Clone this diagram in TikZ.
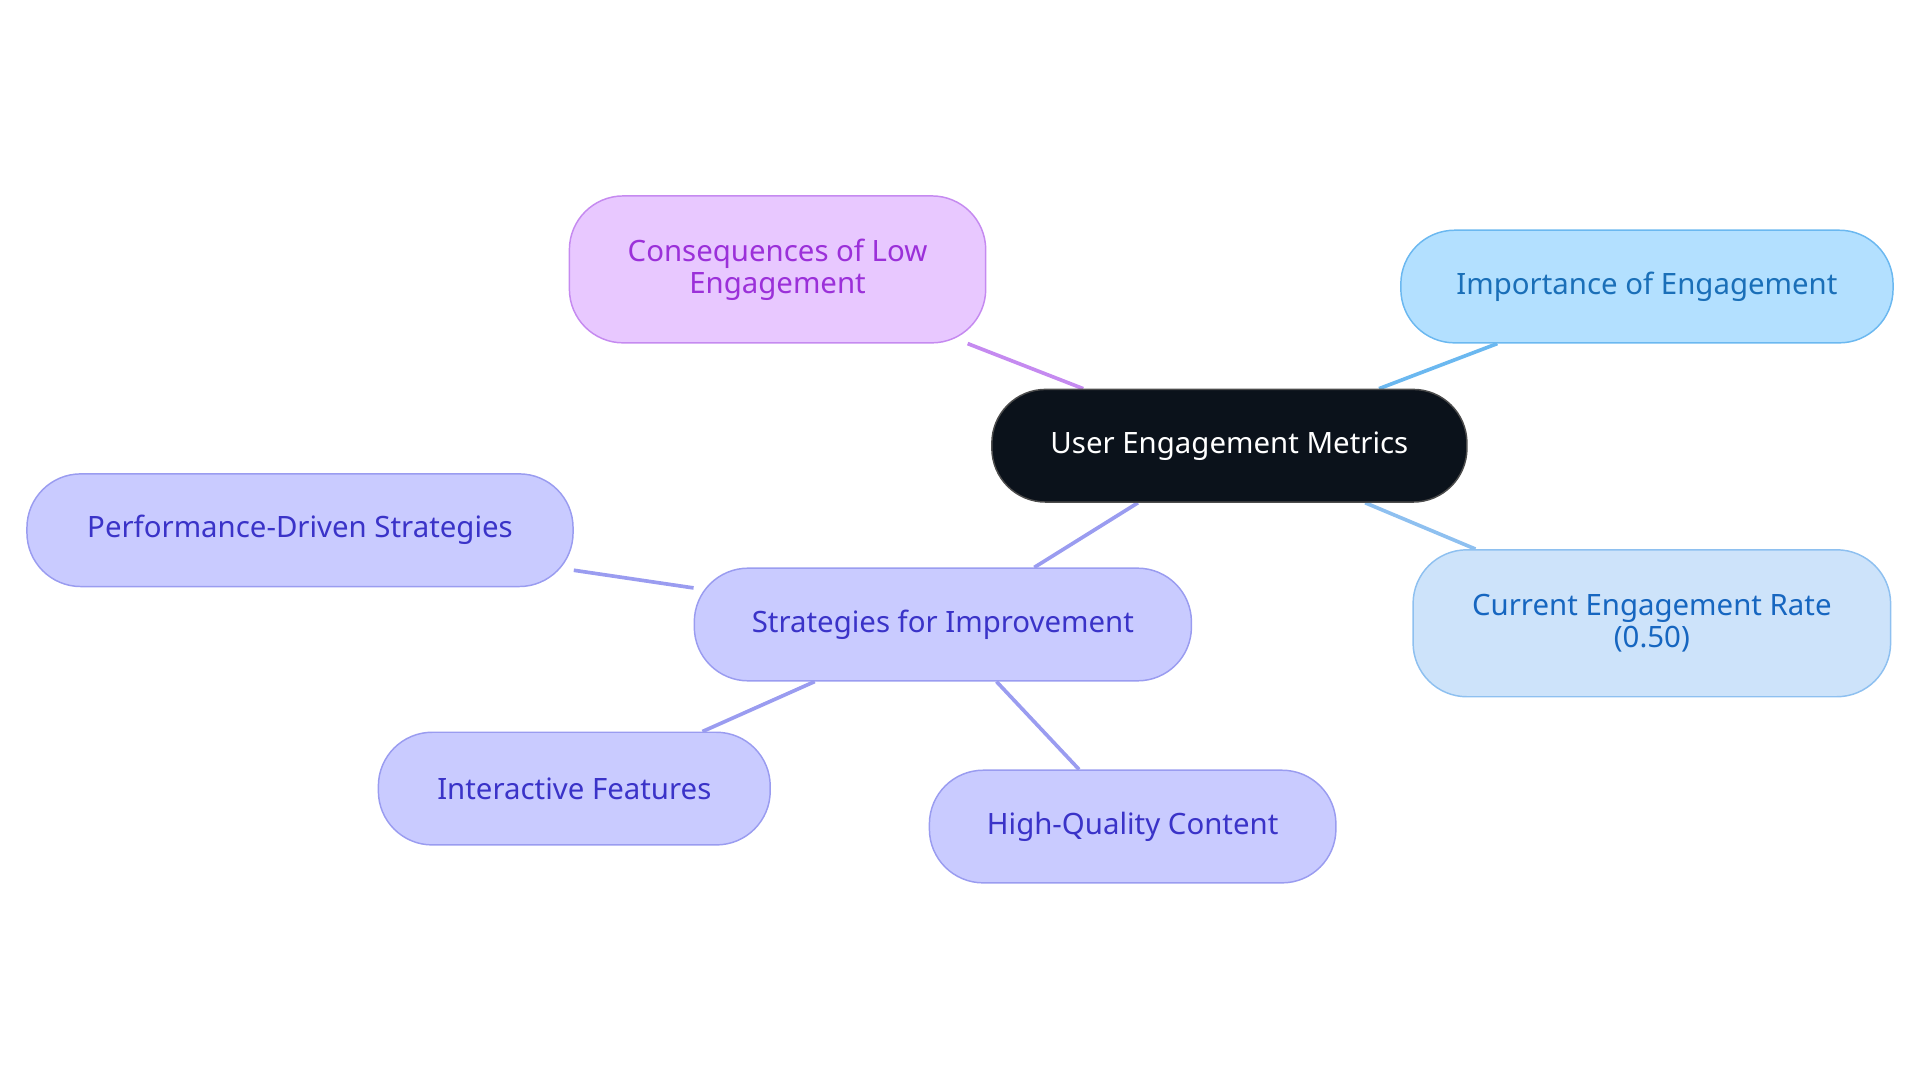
\documentclass[tikz,border=0pt]{standalone}
\usepackage{fontspec}
\setmainfont{Noto Sans}
\usetikzlibrary{backgrounds}
\definecolor{cdark}{HTML}{0B121B}
\definecolor{pfill}{HTML}{E8C8FF}\definecolor{pline}{HTML}{C58AF0}\definecolor{ptext}{HTML}{9B30D9}
\definecolor{bfill}{HTML}{B3E0FF}\definecolor{bline}{HTML}{6BB8F0}\definecolor{btext}{HTML}{1A6FB8}
\definecolor{lfill}{HTML}{CDE3FA}\definecolor{lline}{HTML}{8EC0F0}\definecolor{ltext}{HTML}{1666C0}
\definecolor{vfill}{HTML}{C9CBFF}\definecolor{vline}{HTML}{9A9CF0}\definecolor{vtext}{HTML}{3A33C8}
\begin{document}
\begin{tikzpicture}[x=0.5pt,y=-0.5pt,
  box/.style={rectangle,rounded corners=22pt,line width=0.6pt,align=center,font=\fontsize{12}{13}\selectfont,inner sep=0pt},
  edge/.style={line width=1.5pt}]
\useasboundingbox (0,0) rectangle (1568,884);
\node[box,fill=cdark,draw=gray!60!black,text=white,minimum width=194pt,minimum height=46pt] (c) at (1004,364) {User Engagement Metrics};
\node[box,fill=pfill,draw=pline,text=ptext,minimum width=170pt,minimum height=60pt] (p) at (635,220) {Consequences of Low\\Engagement};
\node[box,fill=bfill,draw=bline,text=btext,minimum width=201pt,minimum height=46pt] (i) at (1345,234) {Importance of Engagement};
\node[box,fill=lfill,draw=lline,text=ltext,minimum width=195pt,minimum height=60pt] (r) at (1349,509) {Current Engagement Rate\\(0.50)};
\node[box,fill=vfill,draw=vline,text=vtext,minimum width=203pt,minimum height=46pt] (s) at (770,510) {Strategies for Improvement};
\node[box,fill=vfill,draw=vline,text=vtext,minimum width=223pt,minimum height=46pt] (pd) at (245,433) {Performance-Driven Strategies};
\node[box,fill=vfill,draw=vline,text=vtext,minimum width=160pt,minimum height=46pt] (if) at (469,644) {Interactive Features};
\node[box,fill=vfill,draw=vline,text=vtext,minimum width=166pt,minimum height=46pt] (hq) at (925,675) {High-Quality Content};
\begin{scope}[on background layer]
\draw[edge,pline] (c) -- (p);
\draw[edge,bline] (c) -- (i);
\draw[edge,lline] (c) -- (r);
\draw[edge,vline] (c) -- (s);
\draw[edge,vline] (s) -- (pd);
\draw[edge,vline] (s) -- (if);
\draw[edge,vline] (s) -- (hq);
\end{scope}
\end{tikzpicture}
\end{document}
